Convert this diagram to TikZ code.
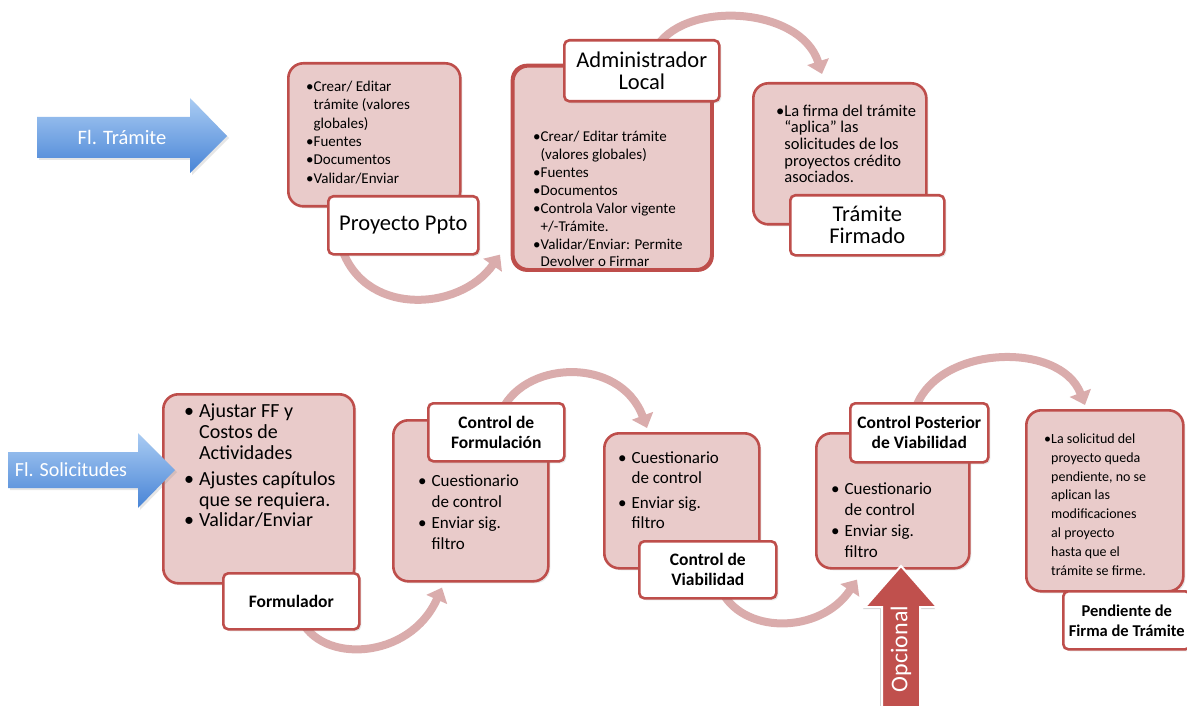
\documentclass[tikz,border=0pt]{standalone}
\usepackage{fontspec}
\setmainfont{Carlito}
\usetikzlibrary{arrows.meta,calc,shadows,backgrounds}
\definecolor{boxred}{RGB}{190,78,75}
\definecolor{boxfill}{RGB}{233,203,202}
\definecolor{arcpink}{RGB}{218,172,172}
\definecolor{bluetop}{RGB}{170,204,243}
\definecolor{bluebot}{RGB}{72,132,214}
\definecolor{optred}{RGB}{192,80,77}
\newcommand{\mybul}{•}
\newcommand{\myind}{\hphantom{•}}
\newcommand{\mybulb}{•\hspace{5pt}}
\newcommand{\myindb}{\hphantom{•\hspace{5pt}}}
\begin{document}
\begin{tikzpicture}[x=1pt,y=-1pt,
  body/.style={draw=boxred, line width=2.6pt, fill=boxfill, rounded corners=15pt, inner sep=0pt, anchor=north west,
    drop shadow={opacity=0.18,shadow xshift=2pt,shadow yshift=-2pt}},
  lbl/.style={draw=boxred, line width=2.6pt, fill=white, rounded corners=5pt, inner sep=0pt, anchor=north west, align=center,
    drop shadow={opacity=0.18,shadow xshift=2pt,shadow yshift=-2pt}},
  toplbl/.style={lbl, font=\fontsize{22.5}{22}\selectfont},
  botlbl/.style={lbl, font=\fontsize{17.5}{20}\selectfont\bfseries},
  txt/.style={anchor=north west, align=left, inner sep=0pt, text=black},
  flow/.style={draw=arcpink, line width=8pt, -{Triangle[width=22pt,length=13pt]}},
  bluearrow/.style={top color=bluetop, bottom color=bluebot, draw=none},
  arrowtext/.style={text=white, inner sep=0pt}
]
\useasboundingbox (0,0) rectangle (1187,706);

% ---------- top row ----------
\node[body, minimum width=172, minimum height=143] (bP) at (287,62) {};
\node[txt, font=\fontsize{15}{18.3}\selectfont] (tP) at (306,81)
  {\mybul Crear/ Editar\\\myind trámite (valores\\\myind globales)\\\mybul Fuentes\\\mybul Documentos\\\mybul Validar/Enviar};
\node[toplbl, minimum width=150, minimum height=58] (lblP) at (327,195) {Proyecto Ppto};

\node[body, minimum width=198, minimum height=203] (bA) at (512,65) {};
\node[txt, font=\fontsize{15}{17.9}\selectfont] (tA) at (533,131)
  {\mybul Crear/ Editar trámite\\\myind (valores globales)\\\mybul Fuentes\\\mybul Documentos\\\mybul Controla Valor vigente\\\myind +/-Trámite.\\\mybul Validar/Enviar: Permite\\\myind Devolver o Firmar};
\draw[draw=boxred, line width=2.6pt, rounded corners=15pt] (bA.north west) rectangle (bA.south east);
\node[toplbl, minimum width=155, minimum height=61] (lblA) at (563,39) {Administrador\\Local};

\node[body, minimum width=173, minimum height=141] (bT) at (752,82) {};
\node[txt, font=\fontsize{16.5}{16.7}\selectfont] (tT) at (776,104.5)
  {\mybul La firma del trámite\\\myind “aplica” las\\\myind solicitudes de los\\\myind proyectos crédito\\\myind asociados.};
\node[toplbl, minimum width=154, minimum height=60] (lblT) at (789,194) {Trámite\\Firmado};

% blue arrow top
\shade[bluearrow, drop shadow={opacity=0.2,shadow xshift=2pt,shadow yshift=-2pt}]
  (37,117) -- (190,117) -- (190,98) -- (227,136) -- (190,173) -- (190,158) -- (37,158) -- cycle;
\node[arrowtext, font=\fontsize{20.5}{20}\selectfont] (fT) at (122,137) {Fl. Trámite};

% ---------- bottom row ----------
\node[body, minimum width=191, minimum height=189] (bF) at (162,393) {};
\node[txt, font=\fontsize{20}{20.8}\selectfont] (tF) at (184,404)
  {\mybulb Ajustar FF y\\\myindb Costos de\\\myindb Actividades\\[5pt]\mybulb Ajustes capítulos\\\myindb que se requiera.\\\mybulb Validar/Enviar};
\node[botlbl, minimum width=136, minimum height=56] (lblF) at (222,572) {Formulador};

\node[body, minimum width=155, minimum height=161] (bCF) at (392,419) {};
\node[txt, font=\fontsize{17}{21}\selectfont] (tCF) at (418,475)
  {\mybulb Cuestionario\\\myindb de control\\\mybulb Enviar sig.\\\myindb filtro};
\node[botlbl, minimum width=136, minimum height=58] (lblCF) at (427,402) {Control de\\Formulación};

\node[body, minimum width=155, minimum height=135] (bCV) at (603,432) {};
\node[txt, font=\fontsize{17}{19.5}\selectfont] (tCV) at (618,452)
  {\mybulb Cuestionario\\\myindb de control\\[6pt]\mybulb Enviar sig.\\\myindb filtro};
\node[botlbl, minimum width=137, minimum height=57] (lblCV) at (638,540) {Control de\\Viabilidad};

\node[body, minimum width=153, minimum height=135] (bCP) at (815,432) {};
\node[txt, font=\fontsize{17}{21}\selectfont] (tCP) at (831,483)
  {\mybulb Cuestionario\\\myindb de control\\\mybulb Enviar sig.\\\myindb filtro};
\node[botlbl, minimum width=138, minimum height=59] (lblCP) at (849,402) {Control Posterior\\de Viabilidad};

\node[body, minimum width=157, minimum height=181] (bPe) at (1025,409) {};
\node[txt, font=\fontsize{14}{18.8}\selectfont] (tPe) at (1044,433.5)
  {\mybul La solicitud del\\\myind proyecto queda\\\myind pendiente, no se\\\myind aplican las\\\myind modificaciones\\\myind al proyecto\\\myind hasta que el\\\myind trámite se firme.};
\node[botlbl, minimum width=127, minimum height=58, font=\fontsize{16.5}{20}\selectfont\bfseries] (lblPe) at (1062,590) {Pendiente de\\Firma de Trámite};

% blue arrow bottom
\shade[bluearrow, drop shadow={opacity=0.2,shadow xshift=2pt,shadow yshift=-2pt}]
  (8,452) -- (138,452) -- (138,433) -- (175,470) -- (138,508) -- (138,488) -- (8,488) -- cycle;
\node[arrowtext, font=\fontsize{20}{20}\selectfont] (fS) at (71,470) {Fl. Solicitudes};

% opcional arrow
\fill[optred, draw=white, line width=2pt, drop shadow={opacity=0.35,shadow xshift=-2pt,shadow yshift=-2pt}]
  (882,708) -- (882,607) -- (865,607) -- (901,566) -- (937,607) -- (920,607) -- (920,708) -- cycle;
\node[rotate=90, text=white, inner sep=0pt, font=\fontsize{24}{24}\selectfont] (op) at (901,649) {Opcional};

% ---------- connectors ----------
\begin{scope}[on background layer]
\draw[flow] ($(lblP.south west)+(13,-13)$) .. controls (360,318) and (460,312) .. ($(bA.south west)+(-12,-16)$);
\draw[flow] ($(lblA.north west)+(92,11)$) .. controls (680,0) and (800,5) .. ($(bT.north west)+(70,-8)$);
\draw[flow] ($(lblF.south west)+(78,-13)$) .. controls (320,665) and (410,660) .. ($(bCF.south west)+(50,5)$);
\draw[flow] ($(lblCF.north west)+(73,13)$) .. controls (520,360) and (620,355) .. ($(bCV.north west)+(44,-4)$);
\draw[flow] ($(lblCV.south west)+(82,-12)$) .. controls (740,635) and (820,635) .. ($(bCP.south west)+(42,10)$);
\draw[flow] ($(lblCP.north west)+(66,8)$) .. controls (935,345) and (1060,340) .. ($(bPe.north west)+(60,-4)$);
\end{scope}
\end{tikzpicture}
\end{document}
